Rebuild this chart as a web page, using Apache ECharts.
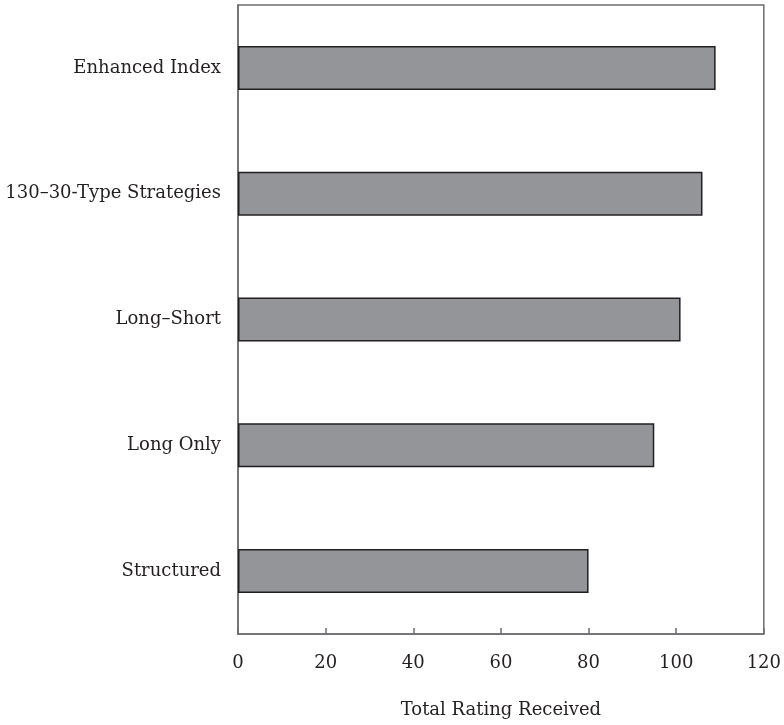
<!DOCTYPE html>
<html><head><meta charset="utf-8">
<script src="https://cdn.jsdelivr.net/npm/echarts@6/dist/echarts.min.js"></script>
<style>html,body{margin:0;padding:0;background:#fff}#c{width:784px;height:725px}</style>
</head><body><div id="c"></div>
<script>
const categories = ["Structured", "Long Only", "Long\u2013Short", "130\u201330-Type Strategies", "Enhanced Index"];
const values = [80, 95, 101, 106, 109];
const xTicks = [0, 20, 40, 60, 80, 100, 120];
const xAxisTitle = "Total Rating Received";

const font = "'DejaVu Serif', 'Liberation Serif', serif";
const fs = 18;
const chart = echarts.init(document.getElementById('c'));
chart.setOption({
  animation: false,
  backgroundColor: '#fff',
  grid: { left: 238, right: 14, top: 5, bottom: 91, show: true, borderColor: '#6d6e71', borderWidth: 1.5, backgroundColor: 'transparent' },
  xAxis: {
    type: 'value', min: xTicks[0], max: xTicks[xTicks.length - 1], interval: 20,
    name: xAxisTitle, nameLocation: 'middle', nameGap: 67,
    nameTextStyle: { fontFamily: font, fontSize: fs, color: '#231f20' },
    axisLine: { show: true, lineStyle: { color: '#6d6e71', width: 1.5 } },
    axisTick: { show: true, inside: true, length: 6, lineStyle: { color: '#6d6e71', width: 1.5 } },
    axisLabel: { margin: 20, fontFamily: font, fontSize: fs, color: '#231f20' },
    splitLine: { show: false }
  },
  yAxis: {
    type: 'category', data: categories,
    axisLine: { show: true, lineStyle: { color: '#6d6e71', width: 1.5 } },
    axisTick: { show: false },
    axisLabel: { margin: 17, fontFamily: font, fontSize: fs, color: '#231f20' }
  },
  series: [{
    type: 'bar', data: values, barWidth: 44,
    itemStyle: { color: '#939598', borderColor: '#231f20', borderWidth: 1.5 }
  }]
});
</script></body></html>
